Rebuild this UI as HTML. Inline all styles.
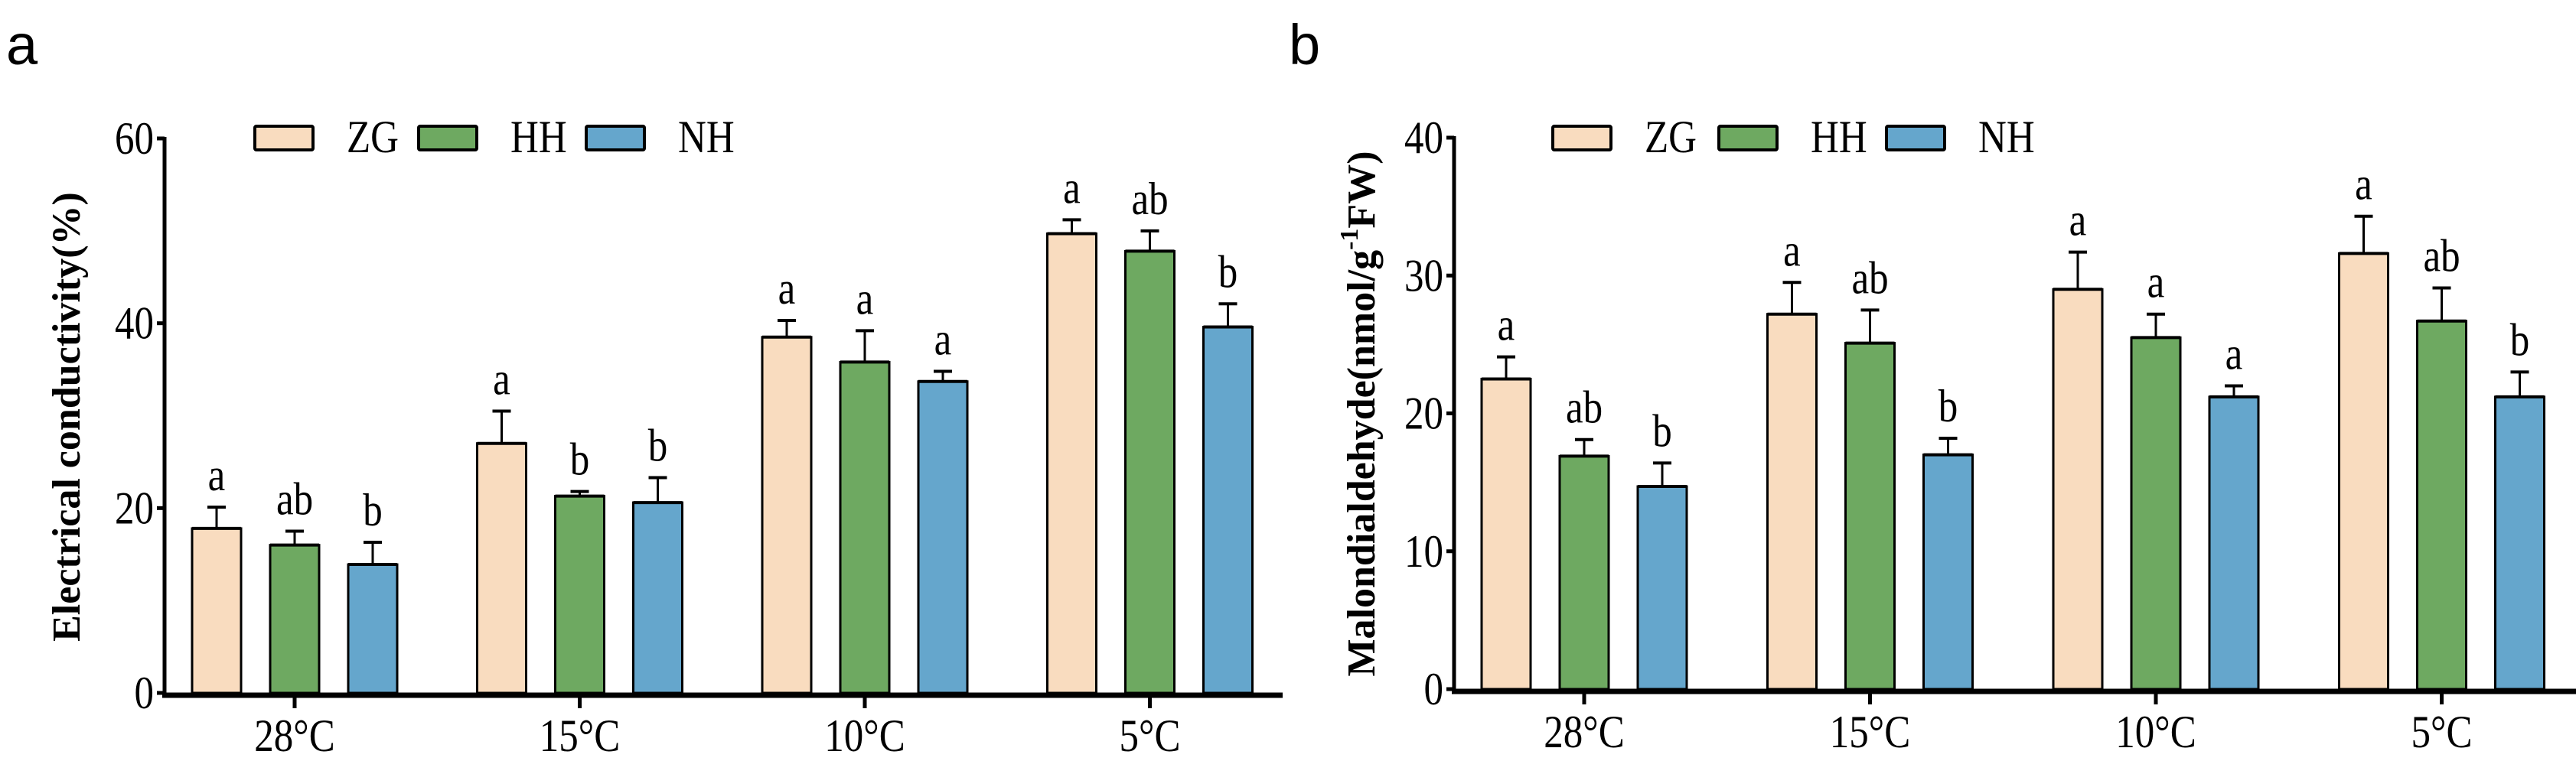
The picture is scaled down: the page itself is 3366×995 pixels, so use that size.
<!DOCTYPE html>
<html><head><meta charset="utf-8"><style>
html,body{margin:0;padding:0;background:#fff;}
svg{display:block;}
text{font-family:"Liberation Serif",serif;}
</style></head>
<body>
<svg id="fig" width="3366" height="995" viewBox="0 0 3366 995" xmlns="http://www.w3.org/2000/svg"></svg>
<script>
const categories = ["28°C","15°C","10°C","5°C"];
const seriesNames = ["ZG","HH","NH"];
const colors = ["#f9dcbf","#6ea961","#65a6cc"];
// Panel a: electrical conductivity
const aZG = [17.8,27.0,38.5,49.7];
const aHH = [16.0,21.3,35.8,47.8];
const aNH = [13.9,20.6,33.7,39.6];
const aErrZG = [2.3,3.5,1.8,1.5];
const aErrHH = [1.5,0.5,3.4,2.2];
const aErrNH = [2.4,2.7,1.1,2.5];
const aLetZG = ["a","a","a","a"];
const aLetHH = ["ab","b","a","ab"];
const aLetNH = ["b","b","a","b"];
const aTicks = [0,20,40,60];
// Panel b: malondialdehyde
const bZG = [22.5,27.2,29.0,31.6];
const bHH = [16.9,25.1,25.5,26.7];
const bNH = [14.7,17.0,21.2,21.2];
const bErrZG = [1.6,2.3,2.7,2.7];
const bErrHH = [1.2,2.4,1.7,2.4];
const bErrNH = [1.7,1.2,0.8,1.8];
const bLetZG = ["a","a","a","a"];
const bLetHH = ["ab","ab","a","ab"];
const bLetNH = ["b","b","a","b"];
const bTicks = [0,10,20,30,40];

const NS="http://www.w3.org/2000/svg";
const svg=document.getElementById('fig');
function mk(tag,attrs,parent,txt){
  const e=document.createElementNS(NS,tag);
  for(const k in attrs)e.setAttribute(k,attrs[k]);
  if(txt!==undefined)e.textContent=txt;
  (parent||svg).appendChild(e);return e;
}
// condensed tall text
function ctext(parent,x,y,size,anchor,txt){
  return mk('text',{x:0,y:0,'font-size':size,'text-anchor':anchor,transform:`translate(${x},${y}) scale(0.85,1)`},parent,txt);
}

function panel(cfg){
  const g=mk('g',{});
  
  
  const y=v=>cfg.y0-(v/cfg.ymax)*(cfg.y0-cfg.ytop);
  const x=i=>cfg.x0+i*cfg.step;
  const pl=mk('text',{x:cfg.labelX,y:84,'font-size':74,style:'font-family:"Liberation Sans",sans-serif'},g,cfg.label);
  
  
  const ya=mk('line',{x1:cfg.ax,y1:cfg.ytop-2,x2:cfg.ax,y2:cfg.y0+3,stroke:'#000','stroke-width':5},g);
  
  
  cfg.ticks.forEach(t=>{
    mk('line',{x1:cfg.ax-10,y1:y(t),x2:cfg.ax,y2:y(t),stroke:'#000','stroke-width':5},g);
    const tl=ctext(g,cfg.ax-14,y(t)+20,60,'end',String(t));
    
    
  });
  const xa=mk('line',{x1:cfg.ax-3,y1:cfg.y0+3,x2:cfg.xend,y2:cfg.y0+3,stroke:'#000','stroke-width':7},g);
  
  
  categories.forEach((c,i)=>{
    mk('line',{x1:x(i),y1:cfg.y0+3,x2:x(i),y2:cfg.y0+20,stroke:'#000','stroke-width':5},g);
    const xl=ctext(g,x(i),cfg.y0+76,60,'middle',c);
    
    
  });
  const bw=64, pitch=102;
  cfg.series.forEach((vals,s)=>{
    vals.forEach((v,i)=>{
      const cx=x(i)+(s-1)*pitch;
      const top=y(v), et=y(v+cfg.errs[s][i]);
      const r=mk('rect',{x:cx-bw/2,y:top,width:bw,height:cfg.y0-top,fill:colors[s],stroke:'#000','stroke-width':3},g);
      
      
      mk('line',{x1:cx,y1:top,x2:cx,y2:et,stroke:'#000','stroke-width':3},g);
      mk('line',{x1:cx-12,y1:et,x2:cx+12,y2:et,stroke:'#000','stroke-width':4},g);
      mk('line',{x1:cx-bw/2,y1:top,x2:cx+bw/2,y2:top,stroke:'#000','stroke-width':4},g);
      const lt=ctext(g,cx,et-22,60,'middle',cfg.letters[s][i]);
      
      
    });
  });
  cfg.legendX.forEach((lx,s)=>{
    const lg=mk('g',{},g);
    
    
    mk('rect',{x:lx,y:165,width:76,height:31,fill:colors[s],stroke:'#000','stroke-width':4,rx:2},lg);
    ctext(lg,lx+120,199,60,'start',seriesNames[s]);
  });
  const t=mk('text',{x:0,y:0,'font-size':cfg.titleSize,'font-weight':'bold','text-anchor':'middle',
    transform:`translate(${cfg.titleX},${cfg.titleY}) rotate(-90)`},g);
  
  
  cfg.title(t);
}

panel({name:'panel-a-electrical-conductivity',label:'a',labelX:8,ax:215,ytop:181,y0:906,ymax:60,
  x0:385,step:372.5,xend:1676,ticks:aTicks,series:[aZG,aHH,aNH],errs:[aErrZG,aErrHH,aErrNH],
  letters:[aLetZG,aLetHH,aLetNH],legendX:[333,547,766],titleX:104,titleY:545,titleSize:52,
  title:t=>{t.textContent='Electrical conductivity(%)';}});

panel({name:'panel-b-malondialdehyde',label:'b',labelX:1684,ax:1900,ytop:180,y0:901,ymax:40,
  x0:2070,step:373.5,xend:3366,ticks:bTicks,series:[bZG,bHH,bNH],errs:[bErrZG,bErrHH,bErrNH],
  letters:[bLetZG,bLetHH,bLetNH],legendX:[2029,2246,2465],titleX:1796,titleY:541,titleSize:52,
  title:t=>{
    mk('tspan',{},t,'Malondialdehyde(nmol/g');
    mk('tspan',{dy:-22,'font-size':34},t,'-1');
    mk('tspan',{dy:22},t,'FW)');
  }});
</script>
</body></html>
